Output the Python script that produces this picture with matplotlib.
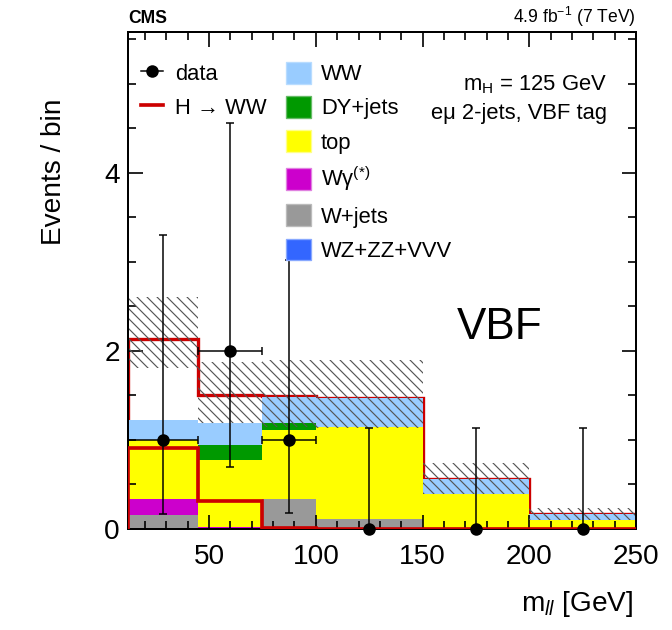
import matplotlib
matplotlib.use("Agg")
import matplotlib.pyplot as plt
import numpy as np
from matplotlib.lines import Line2D
from matplotlib.patches import Patch
from matplotlib.ticker import MultipleLocator

# bin edges of m_ll in GeV
binEdges = [12, 45, 75, 100, 150, 200, 250]

# background contributions per bin (events / bin)
vvv = [0.0, 0.0, 0.0, 0.0, 0.0, 0.0]
wJets = [0.16, 0.0, 0.34, 0.11, 0.0, 0.0]
wGamma = [0.18, 0.02, 0.0, 0.0, 0.0, 0.0]
topBkg = [0.66, 0.76, 0.77, 1.03, 0.39, 0.10]
dyJets = [0.0, 0.16, 0.08, 0.0, 0.0, 0.0]
wwBkg = [0.22, 0.25, 0.29, 0.33, 0.17, 0.07]

# signal H -> WW
signal = [0.91, 0.31, 0.01, 0.0, 0.0, 0.0]

# uncertainty band (lower / upper edge)
bandLow = [1.81, 1.19, 1.15, 1.13, 0.39, 0.10]
bandHigh = [2.60, 1.87, 1.90, 1.90, 0.74, 0.24]

# data points with asymmetric errors
dataX = [28.5, 60, 87.5, 125, 175, 225]
dataY = [1, 2, 1, 0, 0, 0]
dataLow = [0.17, 0.70, 0.18, 0.0, 0.0, 0.0]
dataHigh = [3.30, 4.56, 3.02, 1.13, 1.13, 1.13]

legendNames = ["WW", "DY+jets", "top", "W\u03b3$^{(*)}$", "W+jets", "WZ+ZZ+VVV"]

plt.rcParams["font.family"] = ["Liberation Sans", "DejaVu Sans"]
plt.rcParams["mathtext.fontset"] = "custom"
plt.rcParams["mathtext.rm"] = "Liberation Sans"
plt.rcParams["mathtext.it"] = "Liberation Sans:italic"
plt.rcParams["mathtext.bf"] = "Liberation Sans:bold"
plt.rcParams["hatch.linewidth"] = 0.7

fig = plt.figure(figsize=(5.6, 5.25), dpi=120)
ax = fig.add_axes([128 / 672, 1 - 529 / 630, 508 / 672, 497 / 630])

edges = np.array(binEdges, dtype=float)
red = "#cc0000"

# stacked backgrounds, from bottom to top
stackOrder = [
    (vvv, "#3366ff"),
    (wJets, "#999999"),
    (wGamma, "#cc00cc"),
    (topBkg, "#ffff00"),
    (dyJets, "#009900"),
    (wwBkg, "#99ccff"),
]
base = np.zeros(len(signal))
for values, col in stackOrder:
    values = np.array(values)
    ax.stairs(base + values, edges, baseline=base, fill=True, color=col,
              linewidth=0, zorder=1)
    base = base + values

# signal stacked on top of the backgrounds (drawn below the fills)
ax.stairs(base + np.array(signal), edges, color=red, linewidth=2.0, zorder=0.9)

# uncertainty band
low = np.array(bandLow)
high = np.array(bandHigh)
ax.bar(edges[:-1], high - low, width=np.diff(edges), bottom=low, align="edge",
       fill=False, hatch="\\\\\\\\", edgecolor="#555555", linewidth=0, zorder=2)

# signal alone
ax.stairs(signal, edges, color=red, linewidth=2.2, zorder=3)

# data
yArr = np.array(dataY, dtype=float)
halfWidth = np.diff(edges) / 2
xErr = np.where(yArr > 0, halfWidth, 0)
yErr = [yArr - np.array(dataLow), np.array(dataHigh) - yArr]
ax.errorbar(dataX, yArr, xerr=xErr, yerr=yErr, fmt="o", color="black",
            markersize=6.5, elinewidth=0.9, capsize=2.5, capthick=0.9,
            zorder=5, clip_on=False)

# axes
ax.set_xlim(12, 250)
ax.set_ylim(0, 5.58)
ax.xaxis.set_major_locator(MultipleLocator(50))
ax.xaxis.set_minor_locator(MultipleLocator(10))
ax.yaxis.set_major_locator(MultipleLocator(2))
ax.yaxis.set_minor_locator(MultipleLocator(0.5))
ax.tick_params(which="both", direction="in", top=True, right=True, width=1.0)
ax.tick_params(which="major", length=8.7, labelsize=16.8)
ax.tick_params(which="minor", length=4.8)
ax.tick_params(axis="x", pad=9)
ax.tick_params(axis="y", pad=5)
for spine in ax.spines.values():
    spine.set_linewidth(1.2)

ax.set_xlabel(r"m$_{ll}$ [GeV]", fontsize=16.8, loc="right")
ax.xaxis.set_label_coords(0.995, -0.12)
ax.set_ylabel("Events / bin", fontsize=16.8, loc="top")
ax.yaxis.set_label_coords(-0.12, 0.867)

# legends
dataHandles = [
    Line2D([0], [0], color="black", marker="o", markersize=6.5, linewidth=0.9),
    Line2D([0], [0], color=red, linewidth=2.2),
]
legData = ax.legend(handles=dataHandles, labels=["data", "H \u2192 WW"],
                    loc="upper left", bbox_to_anchor=(0.026, 0.94),
                    frameon=False, fontsize=13.2, handlelength=1.0,
                    handleheight=1.14, labelspacing=0.5, handletextpad=0.55,
                    borderpad=0, borderaxespad=0)
ax.add_artist(legData)

boxColors = ["#99ccff", "#009900", "#ffff00", "#cc00cc", "#999999", "#3366ff"]
boxEdges = ["#b8dcff", "#66bb66", "#ffff88", "#e080e0", "#bbbbbb", "#88a8ff"]
bkgHandles = [Patch(facecolor=c, edgecolor=e, linewidth=0.8)
              for c, e in zip(boxColors, boxEdges)]
ax.legend(handles=bkgHandles, labels=legendNames, loc="upper left",
          bbox_to_anchor=(0.311, 0.94), frameon=False, fontsize=13.2,
          handlelength=1.14, handleheight=1.14, labelspacing=0.5,
          handletextpad=0.45, borderpad=0, borderaxespad=0)

ax.text(0.943, 0.893, r"m$_{\mathrm{H}}$ = 125 GeV", transform=ax.transAxes,
        ha="right", va="center", fontsize=13.2)
ax.text(0.943, 0.837, "e\u03bc 2-jets, VBF tag", transform=ax.transAxes,
        ha="right", va="center", fontsize=13.2)
ax.text(0.732, 0.406, "VBF", transform=ax.transAxes, ha="center",
        va="center", fontsize=26.4)

fig.text(128 / 672, 1 - 23 / 630, "CMS", fontsize=10.5, fontweight="bold",
         ha="left", va="baseline")
fig.text(636 / 672, 1 - 23 / 630, r"4.9 fb$^{-1}$ (7 TeV)", fontsize=10.5,
         ha="right", va="baseline")

fig.savefig("out.png", dpi=120)
